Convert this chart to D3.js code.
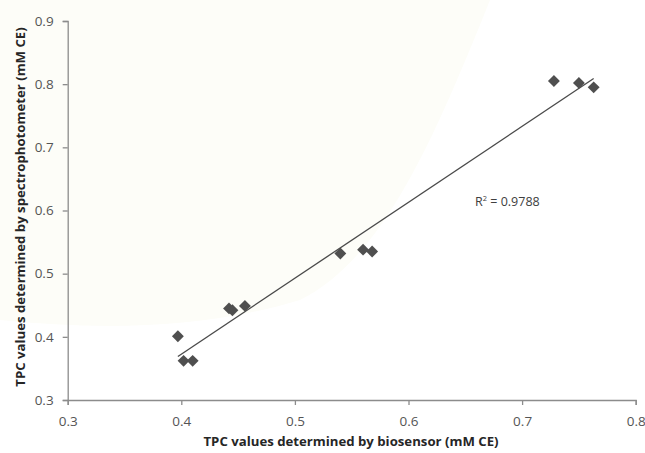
<!DOCTYPE html>
<html>
<head>
<meta charset="utf-8">
<script src="https://cdn.jsdelivr.net/npm/d3@7"></script>
<style>
  html, body { margin: 0; padding: 0; background: #ffffff; }
  svg { display: block; }
</style>
</head>
<body>
<svg id="chart" width="645" height="453"></svg>
<script>
// TPC measured by biosensor (x) vs spectrophotometer (y), mM CE
const biosensor = [0.397, 0.402, 0.410, 0.442, 0.445, 0.456, 0.540, 0.560, 0.568, 0.728, 0.750, 0.763];
const spectro   = [0.401, 0.362, 0.362, 0.445, 0.442, 0.449, 0.532, 0.538, 0.535, 0.805, 0.802, 0.795];
const xTicks = [0.3, 0.4, 0.5, 0.6, 0.7, 0.8];
const yTicks = [0.3, 0.4, 0.5, 0.6, 0.7, 0.8, 0.9];
const r2Label = "0.9788";

const svg = d3.select("#chart");
const font = "'Open Sans', 'Liberation Sans', sans-serif";

// very faint cream backdrop in the upper-left
svg.append("path")
  .attr("d", "M0,0 L490,0 C430,150 380,260 300,300 C200,330 100,330 0,320 Z")
  .attr("fill", "#fdfdf8");

const x = d3.scaleLinear().domain([0.3, 0.8]).range([67.7, 635.7]);
const y = d3.scaleLinear().domain([0.3, 0.9]).range([400, 21]);

// axes
const xAxis = svg.append("g").attr("transform", `translate(0,${y(0.3)})`)
  .call(d3.axisBottom(x).tickValues(xTicks).tickFormat(d3.format(".1f")).tickSizeOuter(0).tickSize(5));
const yAxis = svg.append("g").attr("transform", `translate(${x(0.3)},0)`)
  .call(d3.axisLeft(y).tickValues(yTicks).tickFormat(d3.format(".1f")).tickSizeOuter(0).tickSize(5));

[xAxis, yAxis].forEach(a => {
  a.select(".domain").attr("stroke", "#8c8c8c").attr("stroke-width", 1.3);
  a.selectAll(".tick line").attr("stroke", "#8c8c8c").attr("stroke-width", 1.3);
  a.selectAll(".tick text").attr("fill", "#555555")
    .attr("font-family", font).attr("font-size", 13.5);
});
xAxis.selectAll(".tick text").attr("dy", "1.3em");
yAxis.selectAll(".tick text").attr("dx", "-0.45em");

// linear trend line over the data range
const n = biosensor.length;
const mx = d3.mean(biosensor), my = d3.mean(spectro);
let sxy = 0, sxx = 0;
for (let i = 0; i < n; i++) {
  sxy += (biosensor[i] - mx) * (spectro[i] - my);
  sxx += (biosensor[i] - mx) ** 2;
}
const slope = sxy / sxx, intercept = my - slope * mx;
const [x0, x1] = d3.extent(biosensor);
svg.append("line")
  .attr("x1", x(x0)).attr("y1", y(intercept + slope * x0))
  .attr("x2", x(x1)).attr("y2", y(intercept + slope * x1))
  .attr("stroke", "#4a4a4a").attr("stroke-width", 1.3);

// data points as diamonds
svg.append("g").selectAll("path")
  .data(biosensor.map((v, i) => [v, spectro[i]]))
  .join("path")
  .attr("d", d3.symbol(d3.symbolDiamond2, 90))
  .attr("transform", d => `translate(${x(d[0])},${y(d[1])})`)
  .attr("fill", "#4f4f4f");

// R² annotation
const r2 = svg.append("text")
  .attr("x", 475).attr("y", 206)
  .attr("font-family", font).attr("font-size", 12.5)
  .attr("fill", "#404040");
r2.append("tspan").text("R");
r2.append("tspan").text("2").attr("font-size", 7.5).attr("dy", -5);
r2.append("tspan").text(" = " + r2Label).attr("dy", 5);

// axis titles
svg.append("text")
  .attr("x", 351).attr("y", 446)
  .attr("text-anchor", "middle")
  .attr("font-family", font).attr("font-weight", "bold").attr("font-size", 13.2)
  .attr("fill", "#262626")
  .text("TPC values determined by biosensor (mM CE)");

svg.append("text")
  .attr("transform", "translate(25,207) rotate(-90)")
  .attr("text-anchor", "middle")
  .attr("font-family", font).attr("font-weight", "bold").attr("font-size", 13.2)
  .attr("fill", "#262626")
  .text("TPC values determined by spectrophotometer (mM CE)");
</script>
</body>
</html>
